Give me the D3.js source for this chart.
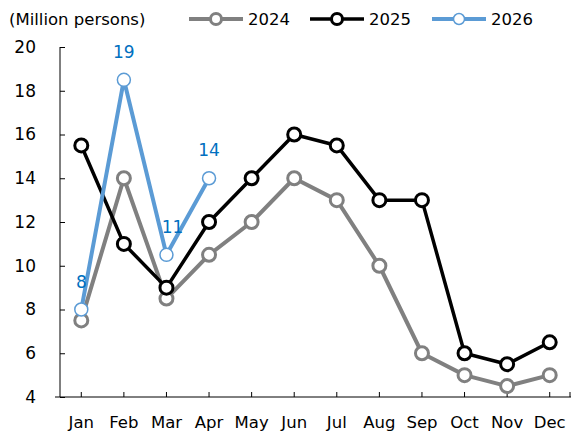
<!DOCTYPE html>
<html><head><meta charset="utf-8">
<script src="https://cdn.jsdelivr.net/npm/d3@7"></script>
<style>body{margin:0;background:#fff}svg{display:block}text{font-family:"DejaVu Sans",Tahoma,sans-serif}</style>
</head><body><svg id="c" width="571" height="437"></svg>
<script>
const months = ["Jan","Feb","Mar","Apr","May","Jun","Jul","Aug","Sep","Oct","Nov","Dec"];
const s2024 = [7.5,14,8.5,10.5,12,14,13,10,6,5,4.5,5];
const s2025 = [15.5,11,9,12,14,16,15.5,13,13,6,5.5,6.5];
const s2026 = [8,18.5,10.5,14];
const labels2026 = ["8","19","11","14"];
const yTicks = [4,6,8,10,12,14,16,18,20];
const seriesNames = ["2024","2025","2026"];

const svg = d3.select("#c");
const L = 60, R = 571, T = 47, B = 397;
const x = d3.scaleBand().domain(months).range([L, R]);
const xc = m => x(m) + x.bandwidth()/2;
const y = d3.scaleLinear().domain([4,20]).range([B, T]);

// y axis
const ya = svg.append("g").attr("transform",`translate(${L},0)`)
  .call(d3.axisLeft(y).tickValues(yTicks).tickSize(0).tickPadding(24));
ya.selectAll("text").attr("font-size",17).attr("fill","#000");
ya.selectAll("line,path").attr("stroke","#000");
ya.select(".domain").attr("d",`M0,${T}V${B}`);
ya.selectAll(".tick line").attr("x2",5);

// x axis
const xa = svg.append("g").attr("transform",`translate(0,${B})`)
  .call(d3.axisBottom(x).tickSize(0).tickPadding(19));
xa.selectAll("text").attr("font-size",16.5).attr("fill","#000");
xa.selectAll("line,path").attr("stroke","#000");
xa.select(".domain").attr("d",`M${L-5},0H${R}`);
xa.selectAll(".tick line").attr("y2",-5);
xa.append("line").attr("x1",R-1).attr("x2",R-1).attr("y1",0).attr("y2",-5).attr("stroke","#000");

const line = d3.line().x((d,i)=>xc(months[i])).y(d=>y(d));
const styles = [
  {data:s2024,color:"#808080",w:4,mstroke:"#808080",msw:3,r:6.5},
  {data:s2025,color:"#000000",w:3.5,mstroke:"#000000",msw:3,r:6.5},
  {data:s2026,color:"#5b9bd5",w:4,mstroke:"#5b9bd5",msw:1.5,r:6.5}
];
styles.forEach(s=>{
  svg.append("path").datum(s.data).attr("d",line).attr("fill","none")
    .attr("stroke",s.color).attr("stroke-width",s.w).attr("stroke-linejoin","round");
  svg.selectAll(null).data(s.data).enter().append("circle")
    .attr("cx",(d,i)=>xc(months[i])).attr("cy",d=>y(d)).attr("r",s.r)
    .attr("fill","#fff").attr("stroke",s.mstroke).attr("stroke-width",s.msw);
});
// 2026 labels
const lblDx = [0,0,6,0];
svg.selectAll(null).data(s2026).enter().append("text")
  .attr("x",(d,i)=>xc(months[i])+lblDx[i]).attr("y",d=>y(d)-22)
  .attr("text-anchor","middle").attr("font-size",17).attr("fill","#0070c0")
  .text((d,i)=>labels2026[i]);

// title
svg.append("text").attr("x",9).attr("y",25).attr("font-size",16.5).attr("fill","#000").text("(Million persons)");
// legend
const lx = [189,310,432];
styles.forEach((s,i)=>{
  const g = svg.append("g");
  g.append("line").attr("x1",lx[i]).attr("x2",lx[i]+54).attr("y1",19).attr("y2",19)
    .attr("stroke",s.color).attr("stroke-width",s.w);
  g.append("circle").attr("cx",lx[i]+27).attr("cy",19).attr("r",5.5)
    .attr("fill","#fff").attr("stroke",s.mstroke).attr("stroke-width",s.msw);
  g.append("text").attr("x",lx[i]+59).attr("y",25).attr("font-size",16.5).attr("fill","#000").text(seriesNames[i]);
});
</script></body></html>
